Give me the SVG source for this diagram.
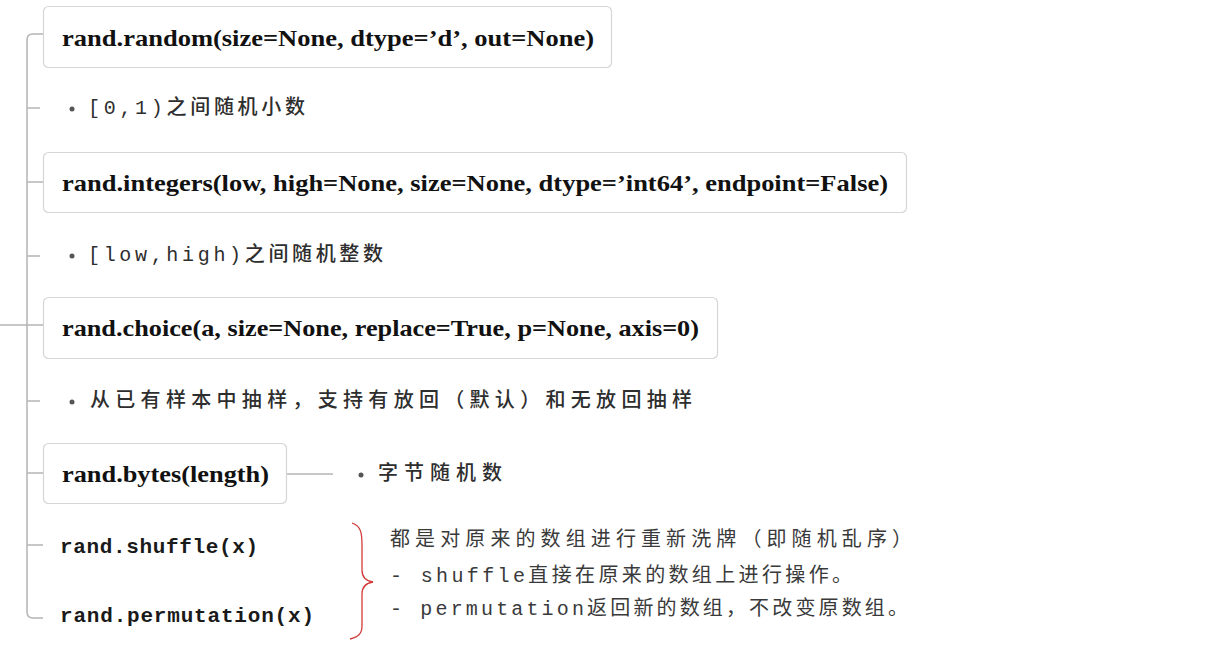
<svg xmlns="http://www.w3.org/2000/svg" width="1224" height="654" viewBox="0 0 1224 654">
<style>
.box{fill:#fff;stroke:#d6d6d6;stroke-width:1.2}
.fn{font-family:"Liberation Serif","Times New Roman",serif;font-weight:bold;font-size:23px;fill:#111}
.mono{font-family:"Liberation Mono","Noto Sans CJK SC",monospace;font-weight:bold;font-size:21px;fill:#1a1a1a}
.cn{font-family:"Liberation Mono","Noto Sans CJK SC",sans-serif;font-size:20px;font-weight:500;fill:#2e2e2e}
.note{font-family:"Liberation Mono","Noto Sans CJK SC",sans-serif;font-size:20px;fill:#3a3a3a}
.ln{fill:none;stroke:#b4b4b4;stroke-width:1.5}
.dot{fill:#555}
</style>
<g id="connectors">
<path class="ln" d="M0,325 H27"/>
<path class="ln" d="M43,34 H33 Q27,34 27,40 V612 Q27,618 33,618 H43"/>
<path class="ln" d="M27,108 H40"/>
<path class="ln" d="M27,182 H43"/>
<path class="ln" d="M27,256 H40"/>
<path class="ln" d="M27,325 H43"/>
<path class="ln" d="M27,401 H40"/>
<path class="ln" d="M27,473 H43"/>
<path class="ln" d="M27,545 H43"/>
<path class="ln" d="M287,474 H333"/>
<path d="M352,523 C361,526 362,533 362,545 L362,570 C362,578 366,581 373,582 C366,583 362,586 362,594 L362,626 C362,634 358,637 350,639" fill="none" stroke="#d23b3b" stroke-width="1.3"/>
</g>
<g id="n-random">
<rect class="box" x="43.5" y="6.5" width="568" height="61" rx="5"/>
<text class="fn" x="62" y="38" dominant-baseline="central" textLength="532" lengthAdjust="spacingAndGlyphs">rand.random(size=None, dtype=’d’, out=None)</text>
</g>
<g id="n-random-note">
<circle class="dot" cx="72" cy="109" r="2.5"/>
<text class="cn" x="88" y="108" dominant-baseline="central" textLength="217">[0,1)之间随机小数</text>
</g>
<g id="n-integers">
<rect class="box" x="43.5" y="152.5" width="863" height="60" rx="5"/>
<text class="fn" x="62" y="183" dominant-baseline="central" textLength="826" lengthAdjust="spacingAndGlyphs">rand.integers(low, high=None, size=None, dtype=’int64’, endpoint=False)</text>
</g>
<g id="n-integers-note">
<circle class="dot" cx="72" cy="256" r="2.5"/>
<text class="cn" x="88" y="255" dominant-baseline="central" textLength="295">[low,high)之间随机整数</text>
</g>
<g id="n-choice">
<rect class="box" x="43.5" y="297.5" width="674" height="61" rx="5"/>
<text class="fn" x="62" y="328" dominant-baseline="central" textLength="637" lengthAdjust="spacingAndGlyphs">rand.choice(a, size=None, replace=True, p=None, axis=0)</text>
</g>
<g id="n-choice-note">
<circle class="dot" cx="72" cy="402" r="2.5"/>
<text class="cn" x="90" y="401" dominant-baseline="central" textLength="602">从已有样本中抽样，支持有放回（默认）和无放回抽样</text>
</g>
<g id="n-bytes">
<rect class="box" x="43.5" y="443.5" width="243" height="60" rx="5"/>
<text class="fn" x="62" y="474" dominant-baseline="central" textLength="207" lengthAdjust="spacingAndGlyphs">rand.bytes(length)</text>
</g>
<g id="n-bytes-note">
<circle class="dot" cx="361" cy="475" r="2.5"/>
<text class="cn" x="378" y="474" dominant-baseline="central" textLength="124">字节随机数</text>
</g>
<g id="n-shuffle">
<text class="mono" x="60" y="547" dominant-baseline="central" textLength="198">rand.shuffle(x)</text>
</g>
<g id="n-permutation">
<text class="mono" x="60" y="616" dominant-baseline="central" textLength="254">rand.permutation(x)</text>
</g>
<g id="n-note">
<text class="note" x="390" y="540" dominant-baseline="central" textLength="522">都是对原来的数组进行重新洗牌（即随机乱序）</text>
<text class="note" x="390" y="576" dominant-baseline="central" textLength="462">- shuffle直接在原来的数组上进行操作。</text>
<text class="note" x="390" y="609" dominant-baseline="central" textLength="518">- permutation返回新的数组，不改变原数组。</text>
</g>
</svg>
